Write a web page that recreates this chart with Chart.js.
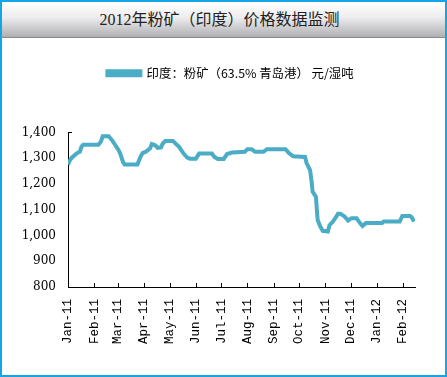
<!DOCTYPE html>
<html>
<head>
<meta charset="utf-8">
<script src="https://cdn.jsdelivr.net/npm/chart.js@4/dist/chart.umd.min.js"></script>
<style>
  html, body { margin: 0; padding: 0; background: #fff; }
  .frame {
    position: relative;
    width: 447px;
    height: 377px;
    box-sizing: border-box;
    border: 2px solid #14a5e4;
    background: #fff;
  }
  .header {
    height: 35px;
    border-bottom: 1px solid #8a8a8e;
    background: linear-gradient(#ffffff, #ececee 45%, #b0b0b4);
    font: 16px "Liberation Serif", "Noto Sans CJK SC", serif;
    color: #222;
    text-align: center;
    line-height: 35px;
    padding-right: 8px;
  }
  .plot { position: relative; width: 443px; height: 337px; }
</style>
</head>
<body>
<div class="frame">
  <div class="header">2012年粉矿（印度）价格数据监测</div>
  <div class="plot"><canvas id="chart"></canvas></div>
</div>
<script>
const seriesLabel = '印度：粉矿（63.5% 青岛港） 元/湿吨'

const dates = [
  '2011-01-01', '2011-01-03', '2011-01-05', '2011-01-09', '2011-01-12', '2011-01-15',
  '2011-01-17', '2011-01-19', '2011-02-06', '2011-02-09', '2011-02-11', '2011-02-18',
  '2011-02-22', '2011-02-25', '2011-02-28', '2011-03-02', '2011-03-04', '2011-03-07',
  '2011-03-09', '2011-03-24', '2011-03-27', '2011-03-30', '2011-04-03', '2011-04-08',
  '2011-04-10', '2011-04-14', '2011-04-17', '2011-04-21', '2011-04-23', '2011-04-26',
  '2011-05-05', '2011-05-08', '2011-05-12', '2011-05-15', '2011-05-19', '2011-05-22',
  '2011-05-25', '2011-06-01', '2011-06-05', '2011-06-20', '2011-06-23', '2011-06-27',
  '2011-07-04', '2011-07-08', '2011-07-14', '2011-07-29', '2011-08-01', '2011-08-06',
  '2011-08-10', '2011-08-20', '2011-08-24', '2011-09-15', '2011-09-19', '2011-09-24',
  '2011-10-08', '2011-10-10', '2011-10-14', '2011-10-16', '2011-10-17', '2011-10-21',
  '2011-10-22', '2011-10-23', '2011-10-26', '2011-10-29', '2011-11-04', '2011-11-06',
  '2011-11-10', '2011-11-14', '2011-11-16', '2011-11-19', '2011-11-24', '2011-11-28',
  '2011-12-02', '2011-12-08', '2011-12-12', '2011-12-15', '2011-12-19', '2012-01-07',
  '2012-01-09', '2012-01-28', '2012-01-31', '2012-02-09', '2012-02-11', '2012-02-14',
]

const prices = [
  1275, 1290, 1300, 1312, 1320, 1325,
  1345, 1352, 1352, 1365, 1385, 1385,
  1370, 1355, 1340, 1330, 1315, 1285,
  1275, 1275, 1300, 1320, 1325, 1338,
  1355, 1350, 1340, 1342, 1357, 1367,
  1367, 1357, 1345, 1330, 1312, 1302,
  1298, 1298, 1318, 1318, 1305, 1297,
  1297, 1316, 1322, 1325, 1335, 1335,
  1325, 1325, 1335, 1335, 1320, 1307,
  1305, 1280, 1254, 1205, 1170, 1150,
  1100, 1060, 1035, 1018, 1015, 1040,
  1054, 1073, 1084, 1084, 1073, 1058,
  1067, 1067, 1048, 1037, 1048, 1048,
  1054, 1054, 1076, 1076, 1071, 1054,
]

const tickDates = [
  '2011-01-01', '2011-02-01', '2011-03-01', '2011-04-01', '2011-05-01', '2011-06-01', '2011-07-01',
  '2011-08-01', '2011-09-01', '2011-10-01', '2011-11-01', '2011-12-01', '2012-01-01', '2012-02-01',
]
const tickLabels = [
  'Jan-11', 'Feb-11', 'Mar-11', 'Apr-11', 'May-11', 'Jun-11', 'Jul-11',
  'Aug-11', 'Sep-11', 'Oct-11', 'Nov-11', 'Dec-11', 'Jan-12', 'Feb-12',
]
const axisStart = '2011-01-01'
const axisEnd = '2012-02-15'

const dayIndex = (s) => (Date.parse(s) - Date.parse(axisStart)) / 86400000

// inward tick marks like the original (Excel style)
const innerTicks = {
  id: 'innerTicks',
  afterDraw(chart) {
    const { ctx, scales: { x, y } } = chart
    ctx.save()
    ctx.strokeStyle = '#000'
    ctx.lineWidth = 1
    ctx.beginPath()
    tickDates.forEach((d) => {
      const px = Math.round(x.getPixelForValue(dayIndex(d))) + 0.5
      ctx.moveTo(px, y.bottom)
      ctx.lineTo(px, y.bottom - 4)
    })
    const top = Math.round(y.getPixelForValue(1400)) + 0.5
    ctx.moveTo(x.left, top)
    ctx.lineTo(x.left + 4, top)
    ctx.stroke()
    ctx.restore()
  },
}

// push the plot area down below the legend, and nudge the legend right
const legendSpace = {
  id: 'legendSpace',
  beforeInit(chart) {
    const fit = chart.legend.fit
    chart.legend.fit = function () {
      fit.bind(chart.legend)()
      this.height += 43
    }
  },
  afterLayout(chart) {
    chart.legend.left += 22
    chart.legend.right += 22
  },
}

const ctx = document.getElementById('chart').getContext('2d')

new Chart(ctx, {
  type: 'line',
  data: {
    datasets: [
      {
        label: seriesLabel,
        data: dates.map((d, i) => ({ x: dayIndex(d), y: prices[i] })),
        borderColor: '#4bacc6',
        backgroundColor: '#4bacc6',
        borderWidth: 4,
        pointRadius: 0,
        tension: 0,
        fill: false,
      },
    ],
  },
  options: {
    responsive: true,
    maintainAspectRatio: false,
    animation: false,
    layout: { padding: { top: 19, right: 30, bottom: 0, left: 0 } },
    scales: {
      x: {
        type: 'linear',
        min: 0,
        max: dayIndex(axisEnd),
        afterBuildTicks(scale) {
          scale.ticks = tickDates.map((d) => ({ value: dayIndex(d) }))
        },
        afterFit(scale) {
          scale.height = 88
        },
        ticks: {
          autoSkip: false,
          minRotation: 90,
          maxRotation: 90,
          padding: 12,
          color: '#000',
          font: { family: 'Liberation Mono', size: 12.5 },
          callback(value, index) {
            return tickLabels[index]
          },
        },
        grid: { drawOnChartArea: false, drawTicks: false },
        border: { color: '#000', width: 1 },
      },
      y: {
        min: 800,
        max: 1400,
        afterFit(scale) {
          scale.width = 66
        },
        ticks: {
          stepSize: 100,
          padding: 12,
          color: '#000',
          font: { family: 'DejaVu Serif', size: 12 },
          callback(value) {
            return value.toLocaleString('en-US')
          },
        },
        grid: { drawOnChartArea: false, drawTicks: false },
        border: { color: '#000', width: 1 },
      },
    },
    plugins: {
      legend: {
        position: 'top',
        labels: {
          boxWidth: 33,
          boxHeight: 4,
          padding: 10,
          color: '#000',
          font: { family: 'Noto Sans CJK SC', size: 12.4 },
        },
      },
      tooltip: { enabled: false },
    },
  },
  plugins: [innerTicks, legendSpace],
})
</script>
</body>
</html>
